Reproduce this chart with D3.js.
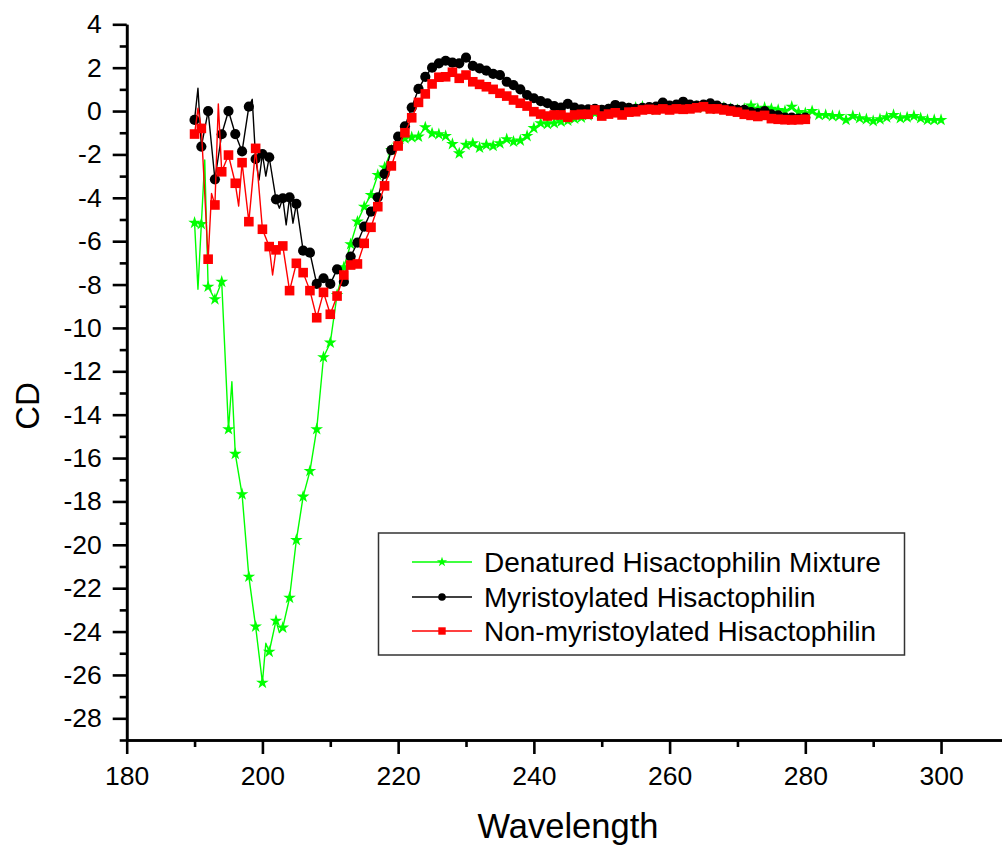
<!DOCTYPE html>
<html><head><meta charset="utf-8">
<script src="https://cdn.jsdelivr.net/npm/d3@7"></script>
<style>
body{margin:0;background:#fff}
svg{display:block}
text{font-family:"Liberation Sans",Arial,sans-serif;fill:#000}
</style>
</head><body>
<svg id="c" width="1002" height="848"></svg>
<script>
// ---------- DATA ----------
// integer wavelengths (nm) where markers are drawn
const wlProtein = d3.range(190, 281);     // 190..280
const wlDenatured = d3.range(190, 301);   // 190..300

const myristoylatedCD = [
 -0.41,-1.64,0.0,-3.15,-1.07,0.0,-1.06,-1.86,0.2,-2.21,
 -1.98,-2.13,-4.07,-4.02,-3.98,-4.28,-6.44,-6.53,-7.97,-7.71,
 -7.97,-7.3,-7.87,-6.71,-6.07,-5.33,-4.64,-3.98,-2.9,-1.8,
 -1.18,-0.7,0.16,1.02,1.58,2.0,2.2,2.32,2.23,2.2,
 2.46,2.08,1.97,1.86,1.71,1.66,1.35,1.2,1.0,0.74,
 0.59,0.46,0.36,0.23,0.16,0.33,0.16,0.08,0.08,0.1,
 0.05,0.1,0.28,0.2,0.15,0.1,0.15,0.18,0.2,0.39,
 0.25,0.3,0.43,0.3,0.25,0.3,0.36,0.25,0.15,0.1,
 0.05,0.05,-0.05,-0.1,0.0,-0.15,-0.2,-0.3,-0.3,-0.35,
 -0.3
];
// intermediate (half-nm) readings between markers
const myristoylatedHalfWl = [190.5,198.5,199.5,200.5,202.5,203.5,204.5];
const myristoylatedHalfCD = [1.05,0.54,-3.18,-3.0,-4.48,-5.25,-5.17];

const nonMyristoylatedCD = [
 -1.06,-0.8,-6.83,-4.33,-2.8,-2.03,-3.33,-2.38,-5.1,-1.72,
 -5.45,-6.25,-6.4,-6.22,-8.28,-7.02,-7.45,-8.28,-9.53,-8.36,
 -9.37,-8.53,-7.56,-7.1,-7.05,-6.1,-5.36,-4.41,-3.45,-2.53,
 -1.61,-1.0,-0.31,0.4,0.79,1.25,1.56,1.58,1.79,1.51,
 1.66,1.35,1.23,1.12,1.0,0.82,0.69,0.51,0.36,0.23,
 -0.03,-0.14,-0.23,-0.18,-0.18,-0.29,-0.18,-0.15,-0.15,0.05,
 -0.23,-0.14,-0.08,-0.18,-0.05,-0.03,0.05,0.08,0.05,0.1,
 0.05,0.1,0.08,0.1,0.15,0.2,0.1,0.1,0.05,0.0,
 -0.05,-0.15,-0.2,-0.25,-0.2,-0.35,-0.38,-0.4,-0.41,-0.4,
 -0.38
];
const nonMyristoylatedHalfWl = [190.5,192.5,193.5,196.5,201.5];
const nonMyristoylatedHalfCD = [0.13,-3.8,0.33,-4.38,-7.56];

const denaturedCD = [
 -5.15,-5.21,-8.1,-8.68,-7.87,-14.67,-15.81,-17.67,-21.47,-23.77,
 -26.36,-24.93,-23.5,-23.82,-22.44,-19.78,-17.78,-16.6,-14.67,-11.35,
 -10.68,-8.48,-7.2,-6.14,-5.1,-4.41,-3.87,-2.95,-2.6,-1.8,
 -1.56,-1.26,-1.21,-1.18,-0.75,-1.03,-1.07,-1.15,-1.52,-1.95,
 -1.56,-1.49,-1.69,-1.56,-1.61,-1.49,-1.3,-1.41,-1.36,-1.15,
 -0.79,-0.56,-0.6,-0.56,-0.49,-0.44,-0.35,-0.3,-0.2,-0.1,
 0.0,0.05,0.1,0.05,0.1,0.15,0.2,0.1,0.05,0.1,
 0.1,0.15,0.1,0.15,0.2,0.15,0.1,0.1,0.15,0.1,
 0.05,0.1,0.25,0.1,0.15,0.1,0.05,0.0,0.2,-0.05,
 -0.1,0.0,-0.18,-0.18,-0.23,-0.23,-0.41,-0.23,-0.33,-0.38,
 -0.46,-0.38,-0.29,-0.18,-0.33,-0.29,-0.23,-0.33,-0.41,-0.41,
 -0.41
];
const denaturedHalfWl = [190.5,191.5,195.5,200.5,202.5];
const denaturedHalfCD = [-8.22,-2.26,-12.48,-24.54,-24.05];

const xMajorTicks = [180,200,220,240,260,280,300];
const xMinorTicks = [190,210,230,250,270,290,310];
const yMajorTicks = d3.range(-28, 5, 2);
const yMinorTicks = d3.range(-29, 4, 2);

const seriesNames = ["Denatured Hisactophilin Mixture","Myristoylated Hisactophilin","Non-myristoylated Hisactophilin"];

// ---------- CHART ----------
const svg = d3.select("#c");
const x = d3.scaleLinear().domain([180,310]).range([126.7,1008.9]);
const y = d3.scaleLinear().domain([-29,4]).range([740,24.3]);

function merge(wl, vals, hwl, hvals){
  const pts = wl.map((w,i)=>({w, v:vals[i], m:true}));
  hwl.forEach((w,i)=>pts.push({w, v:hvals[i], m:false}));
  pts.sort((a,b)=>a.w-b.w);
  return pts;
}

const series = [
  {name:seriesNames[0], color:"#00ff00", sym:"star",   pts:merge(wlDenatured, denaturedCD, denaturedHalfWl, denaturedHalfCD)},
  {name:seriesNames[1], color:"#000000", sym:"circle", pts:merge(wlProtein, myristoylatedCD, myristoylatedHalfWl, myristoylatedHalfCD)},
  {name:seriesNames[2], color:"#ff0000", sym:"square", pts:merge(wlProtein, nonMyristoylatedCD, nonMyristoylatedHalfWl, nonMyristoylatedHalfCD)}
];

const line = d3.line().x(d=>x(d.w)).y(d=>y(d.v));

function drawMarker(g, sym, color, sz){
  if(sym==="circle"){
    g.append("circle").attr("r",sz.circle).attr("fill",color);
  } else if(sym==="square"){
    const s=sz.square;
    g.append("rect").attr("x",-s/2).attr("y",-s/2).attr("width",s).attr("height",s).attr("fill",color);
  } else {
    g.append("path").attr("d",d3.symbol(d3.symbolStar, sz.star)()).attr("fill",color);
  }
}
const plotSize = {circle:5.1, square:9.6, star:50};
const legendSize = {circle:3.8, square:7.4, star:32};

const plot = svg.append("g");
series.forEach(s=>{
  const g = plot.append("g");
  g.append("path").attr("d",line(s.pts)).attr("fill","none")
    .attr("stroke",s.color).attr("stroke-width",1.4).attr("stroke-linejoin","round");
  s.pts.filter(p=>p.m).forEach(p=>{
    const mg = g.append("g").attr("transform",`translate(${x(p.w)},${y(p.v)})`);
    drawMarker(mg, s.sym, s.color, plotSize);
  });
});

// axes
const fs = 26.5;
svg.append("g").attr("transform","translate(0,740)")
  .call(d3.axisBottom(x).tickValues(xMajorTicks).tickSize(14).tickSizeOuter(0).tickPadding(12).tickFormat(d3.format("d")));
svg.append("g").attr("transform","translate(0,740)")
  .call(d3.axisBottom(x).tickValues(xMinorTicks).tickSize(7).tickSizeOuter(0).tickFormat(""));
svg.append("g").attr("transform","translate(126.7,0)")
  .call(d3.axisLeft(y).tickValues(yMajorTicks).tickSize(14).tickSizeOuter(0).tickPadding(11).tickFormat(d=>String(d)));
svg.append("g").attr("transform","translate(126.7,0)")
  .call(d3.axisLeft(y).tickValues(yMinorTicks).tickSize(7).tickSizeOuter(0).tickFormat(""));

svg.selectAll(".domain").attr("stroke","#000").attr("stroke-width",2.6);
svg.selectAll(".tick line").attr("stroke","#000").attr("stroke-width",2.6);
svg.selectAll(".tick text").attr("font-size",fs).attr("font-family",'"Liberation Sans",Arial,sans-serif').attr("fill","#000");

// axis titles
svg.append("text").attr("x",568).attr("y",838).attr("text-anchor","middle").attr("font-size",34.5).text("Wavelength");
svg.append("text").attr("transform","translate(39,406) rotate(-90)").attr("text-anchor","middle").attr("font-size",33).text("CD");

// legend
const lg = svg.append("g");
lg.append("rect").attr("x",378.5).attr("y",533).attr("width",526).attr("height",122)
  .attr("fill","#fff").attr("stroke","#333").attr("stroke-width",1.5);
const rowY = [562,597,631];
series.forEach((s,i)=>{
  const yy = rowY[i];
  lg.append("line").attr("x1",412).attr("x2",472).attr("y1",yy).attr("y2",yy)
    .attr("stroke",s.color).attr("stroke-width",1.3);
  const mg = lg.append("g").attr("transform",`translate(442,${yy})`);
  drawMarker(mg, s.sym, s.color, legendSize);
  lg.append("text").attr("x",484).attr("y",yy).attr("dy","0.36em").attr("font-size",28).text(s.name);
});
</script>
</body></html>
